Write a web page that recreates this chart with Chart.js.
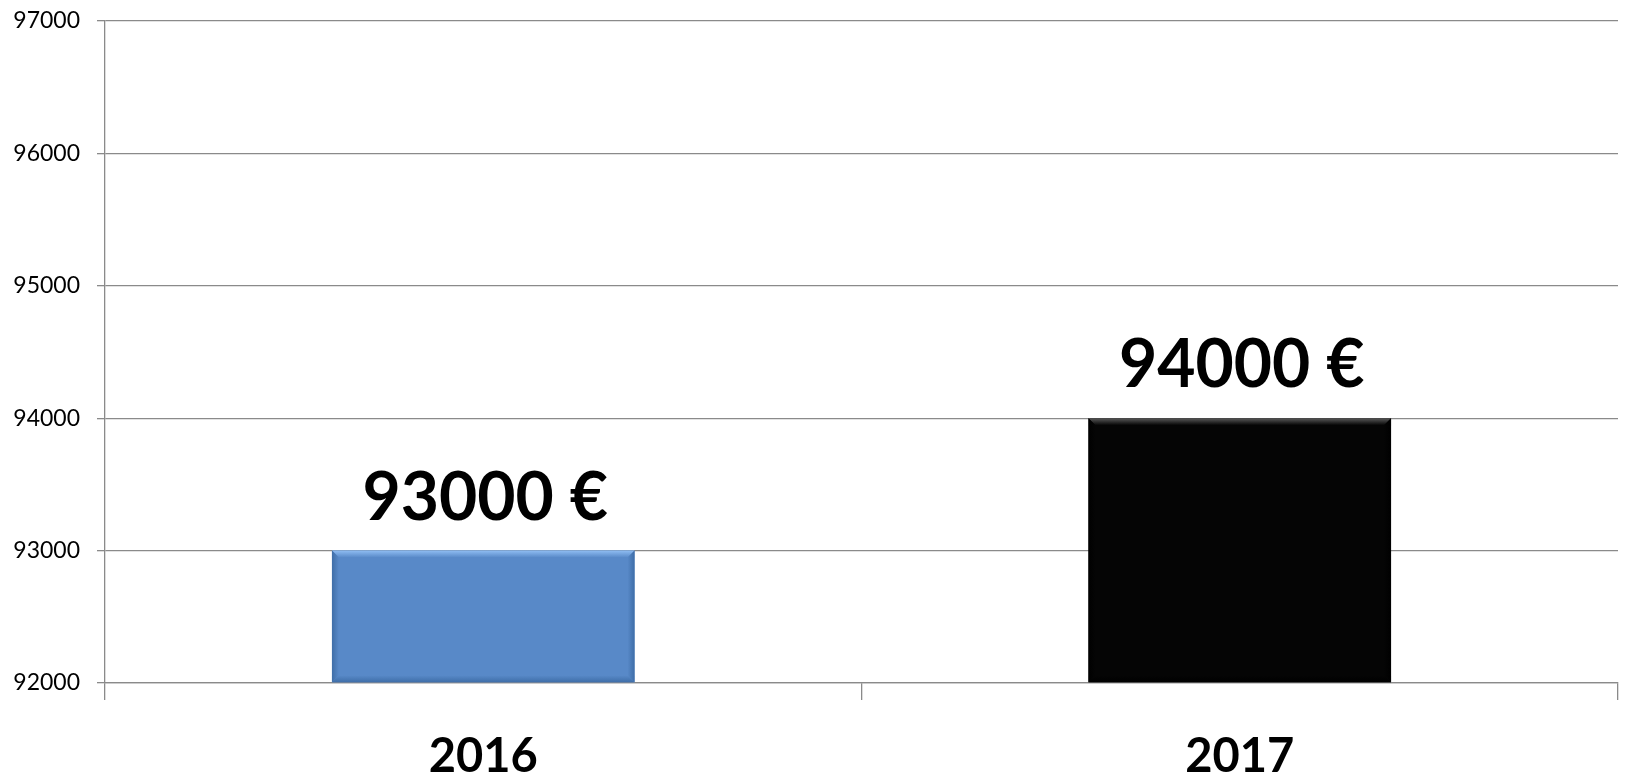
<!DOCTYPE html>
<html>
<head>
<meta charset="utf-8">
<script src="https://cdn.jsdelivr.net/npm/chart.js@4/dist/chart.umd.min.js"></script>
<style>
  html, body { margin: 0; padding: 0; background: #ffffff; }
  #wrap { width: 1626px; height: 773px; position: relative; }
</style>
</head>
<body>
<div id="wrap"><canvas id="c" width="1626" height="773"></canvas></div>
<script>
const categories = ['2016', '2017'];
const revenue = [93000, 94000];
const barColors = ['#5889c8', '#050505'];
const bevelLight = ['#8fbdf2', '#5a5a5a'];
const bevelDark = ['#3f6ea8', '#000000'];
const yMin = 92000;
const yMax = 97000;
const yStep = 1000;
const currency = '€';

const bevelPlugin = {
  id: 'bevel',
  afterDatasetsDraw(chart) {
    const ctx = chart.ctx;
    const meta = chart.getDatasetMeta(0);
    const area = chart.chartArea;
    meta.data.forEach((el, i) => {
      const w = el.width, l = el.x - w / 2, r = el.x + w / 2, t = el.y, b = Math.min(el.base, area.bottom);
      const d = 7;
      ctx.save();
      let g = ctx.createLinearGradient(0, t, 0, t + d);
      g.addColorStop(0, bevelLight[i]);
      g.addColorStop(1, barColors[i]);
      ctx.fillStyle = g;
      ctx.beginPath();
      ctx.moveTo(l, t); ctx.lineTo(r, t); ctx.lineTo(r - d, t + d); ctx.lineTo(l + d, t + d); ctx.closePath();
      ctx.fill();
      g = ctx.createLinearGradient(l, 0, l + d, 0);
      g.addColorStop(0, bevelDark[i]);
      g.addColorStop(1, barColors[i]);
      ctx.fillStyle = g;
      ctx.beginPath();
      ctx.moveTo(l, t); ctx.lineTo(l + d, t + d); ctx.lineTo(l + d, b - d); ctx.lineTo(l, b); ctx.closePath();
      ctx.fill();
      g = ctx.createLinearGradient(r, 0, r - d, 0);
      g.addColorStop(0, bevelDark[i]);
      g.addColorStop(1, barColors[i]);
      ctx.fillStyle = g;
      ctx.beginPath();
      ctx.moveTo(r, t); ctx.lineTo(r - d, t + d); ctx.lineTo(r - d, b - d); ctx.lineTo(r, b); ctx.closePath();
      ctx.fill();
      g = ctx.createLinearGradient(0, b, 0, b - d);
      g.addColorStop(0, bevelDark[i]);
      g.addColorStop(1, barColors[i]);
      ctx.fillStyle = g;
      ctx.beginPath();
      ctx.moveTo(l, b); ctx.lineTo(r, b); ctx.lineTo(r - d, b - d); ctx.lineTo(l + d, b - d); ctx.closePath();
      ctx.fill();
      ctx.restore();
    });
  },
  afterDraw(chart) {
    const ctx = chart.ctx;
    const meta = chart.getDatasetMeta(0);
    ctx.save();
    ctx.font = 'bold 66px Lato';
    ctx.fillStyle = '#000000';
    ctx.textAlign = 'center';
    ctx.textBaseline = 'alphabetic';
    meta.data.forEach((el, i) => {
      const v = chart.data.datasets[0].data[i];
      ctx.fillText(v + ' ' + currency, el.x + 2, el.y - 31);
    });
    ctx.restore();
  }
};

new Chart(document.getElementById('c'), {
  type: 'bar',
  data: {
    labels: categories,
    datasets: [{
      data: revenue,
      base: yMin,
      backgroundColor: barColors,
      borderWidth: 0,
      barPercentage: 0.4,
      categoryPercentage: 1.0
    }]
  },
  options: {
    responsive: false,
    animation: false,
    devicePixelRatio: 1,
    layout: { padding: { top: 21, right: 8, left: 0, bottom: 0 } },
    plugins: { legend: { display: false }, tooltip: { enabled: false } },
    scales: {
      x: {
        grid: { offset: true, drawOnChartArea: false, drawTicks: true, tickLength: 17, color: '#8a8a8a', lineWidth: 1.3 },
        border: { display: true, color: '#8a8a8a', width: 1.3 },
        ticks: { font: { family: 'Lato', size: 47, weight: 'bold' }, color: '#000000', padding: 29 },
        afterFit(s) { s.height = 90; s.paddingLeft = 0; s.paddingRight = 0; }
      },
      y: {
        min: yMin,
        max: yMax,
        grid: { color: '#8a8a8a', lineWidth: 1.3, tickLength: 8 },
        border: { display: true, color: '#8a8a8a', width: 1.3 },
        ticks: {
          stepSize: yStep,
          font: { family: 'Lato', size: 23 },
          color: '#000000',
          padding: 17,
          callback: (v) => String(v)
        },
        afterFit(s) { s.width = 105; s.paddingTop = 0; s.paddingBottom = 0; }
      }
    }
  },
  plugins: [bevelPlugin]
});
</script>
</body>
</html>
